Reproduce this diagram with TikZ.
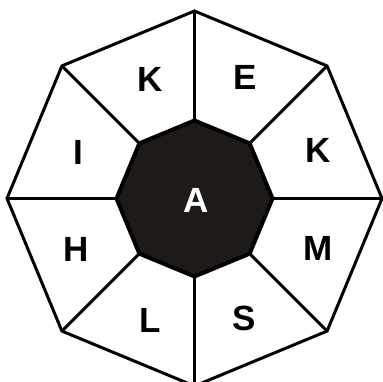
\documentclass[tikz,border=0pt]{standalone}
\usepackage{fontspec}
\setmainfont{Liberation Sans}
\usetikzlibrary{calc}
\begin{document}
\begin{tikzpicture}[x=1pt,y=-1pt,
  outerline/.style={line width=3pt,line join=miter},
  spoke/.style={line width=3pt},
  hub/.style={fill=hubcol,draw=black,line width=4pt,line join=miter},
  lbl/.style={font=\fontsize{35}{35}\selectfont\bfseries,inner sep=0pt,text=black},
  hublbl/.style={font=\fontsize{35}{35}\selectfont\bfseries,inner sep=0pt,text=white}]
\definecolor{hubcol}{HTML}{1E1A17}
\useasboundingbox (0,0) rectangle (383,382);
\coordinate (c) at (194.5,198.5);
\foreach \k in {0,...,7}{
  \coordinate (o\k) at ($(c)+(90+45*\k:187.5)$);
  \coordinate (i\k) at ($(c)+(90+45*\k:78)$);
}
\draw[outerline] (o0)--(o1)--(o2)--(o3)--(o4)--(o5)--(o6)--(o7)--cycle;
\foreach \k in {0,...,7}{
  \draw[spoke] (i\k)--(o\k);
}
\draw[hub] (i0)--(i1)--(i2)--(i3)--(i4)--(i5)--(i6)--(i7)--cycle;
\node[hublbl] (a) at (196,200) {A};
\node[lbl] (k1) at (150.5,79.5) {K};
\node[lbl] (e) at (245.5,77.5) {E};
\node[lbl] (k2) at (318.5,150.5) {K};
\node[lbl] (m) at (318,248) {M};
\node[lbl] (s) at (244.5,318.5) {S};
\node[lbl] (l) at (150,320) {L};
\node[lbl] (h) at (76,249) {H};
\node[lbl] (i) at (78,152) {I};
\end{tikzpicture}
\end{document}
